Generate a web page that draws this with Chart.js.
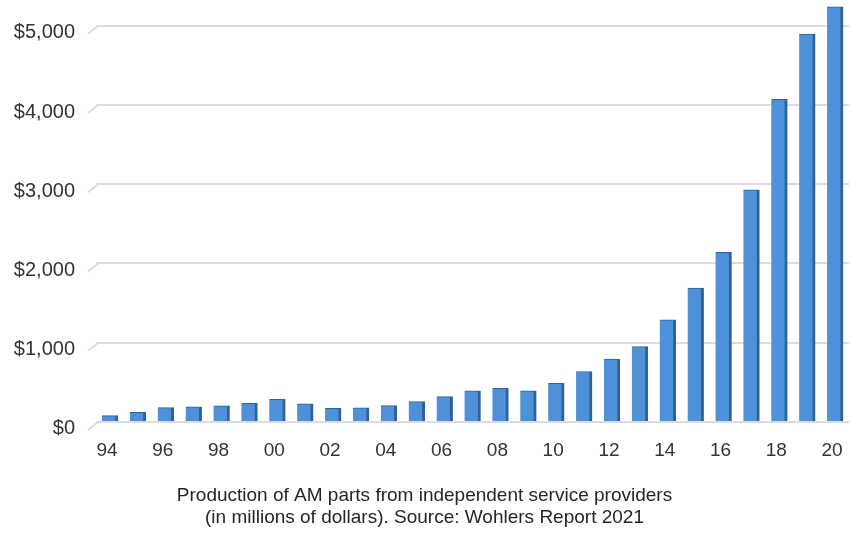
<!DOCTYPE html>
<html>
<head>
<meta charset="utf-8">
<script src="https://cdn.jsdelivr.net/npm/chart.js@4.4.1/dist/chart.umd.min.js"></script>
<style>
  html, body { margin: 0; padding: 0; background: #ffffff; }
  #wrap { width: 852px; height: 533px; }
</style>
</head>
<body>
<div id="wrap"><canvas id="chart" width="852" height="533"></canvas></div>
<script>
// Production of AM parts by independent service providers, US$ millions
const years = ['94','95','96','97','98','99','00','01','02','03','04','05','06','07',
               '08','09','10','11','12','13','14','15','16','17','18','19','20'];
const revenue = [80, 122, 180, 189, 202, 236, 286, 227, 172, 177, 205, 256, 319, 391,
                 425, 391, 488, 636, 793, 952, 1288, 1690, 2140, 2930, 4070, 4895, 5240];
const yTicks = [0, 1000, 2000, 3000, 4000, 5000];
const captionLines = [
  'Production of AM parts from independent service providers',
  '(in millions of dollars). Source: Wohlers Report 2021'
];

const FONT = "'Liberation Sans', Arial, Helvetica, sans-serif";

// short receding segment at the left end of each gridline (floor / back wall look)
const gridSlant = {
  id: 'gridSlant',
  beforeDatasetsDraw(chart) {
    const y = chart.scales.y;
    const left = chart.chartArea.left;
    const ctx = chart.ctx;
    ctx.save();
    ctx.strokeStyle = '#dcdcdc';
    ctx.lineWidth = 2;
    y.ticks.forEach(t => {
      const py = y.getPixelForValue(t.value);
      ctx.beginPath();
      ctx.moveTo(left - 8, py + 8);
      ctx.lineTo(left + 2, py);
      ctx.stroke();
    });
    ctx.restore();
  }
};

new Chart(document.getElementById('chart'), {
  type: 'bar',
  data: {
    labels: years,
    datasets: [{
      data: revenue,
      backgroundColor: '#4f91d8',
      borderColor: '#2f6299',
      borderWidth: { top: 1, right: 3, left: 0, bottom: 0 },
      borderSkipped: false,
      barThickness: 16
    }]
  },
  options: {
    responsive: false,
    animation: false,
    layout: { autoPadding: false, padding: { top: 2, right: 3, left: 0, bottom: 0 } },
    plugins: {
      legend: { display: false },
      tooltip: { enabled: false },
      title: {
        display: true,
        position: 'bottom',
        text: captionLines,
        color: '#262626',
        font: { family: FONT, size: 19, weight: 'normal', lineHeight: 1.16 },
        padding: { top: 23, bottom: 4 }
      }
    },
    scales: {
      x: {
        afterFit: s => { s.height = 40; s.paddingLeft = 0; s.paddingRight = 0; },
        grid: { display: false, drawTicks: false },
        border: { display: false },
        ticks: {
          autoSkip: false,
          maxRotation: 0,
          padding: 17,
          labelOffset: -3,
          color: '#333333',
          font: { family: FONT, size: 19 },
          callback: (v, i) => (i % 2 === 0 ? years[i] : '')
        }
      },
      y: {
        min: 0,
        max: 5300,
        afterBuildTicks: s => { s.ticks = yTicks.map(v => ({ value: v })); },
        afterFit: s => { s.width = 96; s.paddingTop = 0; s.paddingBottom = 0; },
        grid: { color: '#dcdcdc', lineWidth: 2, drawTicks: false },
        border: { display: false },
        ticks: {
          padding: 21,
          labelOffset: 7,
          color: '#333333',
          font: { family: FONT, size: 20 },
          callback: v => '$' + Number(v).toLocaleString('en-US')
        }
      }
    }
  },
  plugins: [gridSlant]
});
</script>
</body>
</html>
